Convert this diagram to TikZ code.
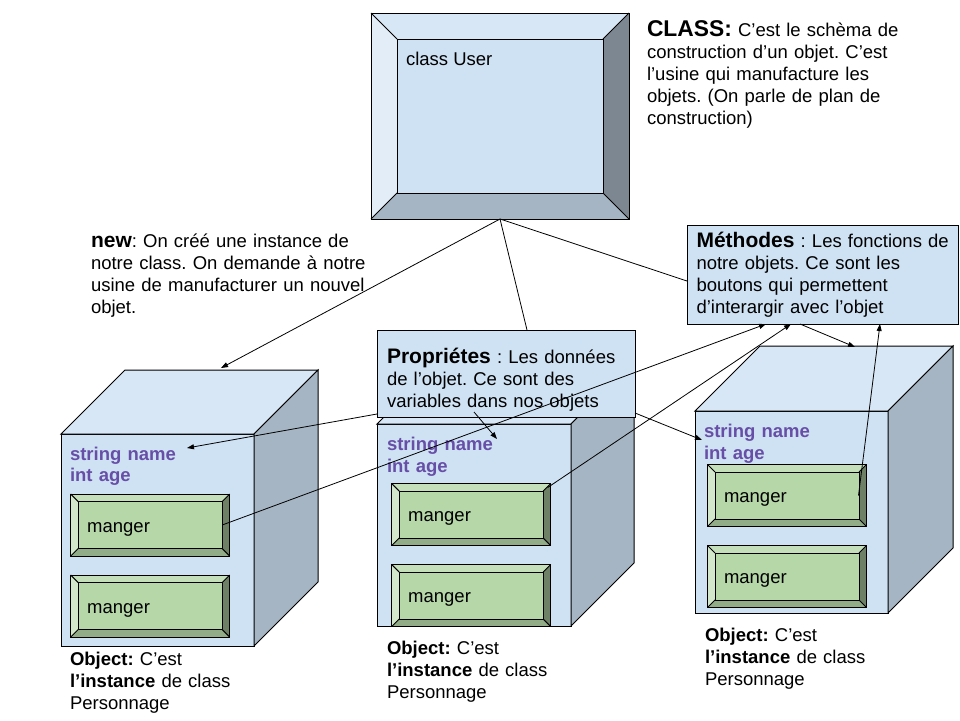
\documentclass[tikz,border=0pt]{standalone}
\usepackage{fontspec}
\setmainfont{Liberation Sans}
\usetikzlibrary{arrows.meta}

\definecolor{faceblue}{HTML}{CFE2F3}
\definecolor{topblue}{HTML}{D8E7F5}
\definecolor{sideblue}{HTML}{A5B5C3}
\definecolor{bevlight}{HTML}{E2EDF8}
\definecolor{bevdark}{HTML}{7C8792}
\definecolor{btnface}{HTML}{B6D7A8}
\definecolor{btntop}{HTML}{C5DFBA}
\definecolor{btnleft}{HTML}{D3E8CB}
\definecolor{btnright}{HTML}{6E8065}
\definecolor{btnbottom}{HTML}{92AC87}
\definecolor{fieldpurple}{HTML}{674EA7}

% bold lead word of a note, one size up
\newcommand\headword[1]{{\fontsize{21}{22.2}\selectfont\bfseries #1}}

% bevelled panel drawn around an empty node: node, inset, face, top, left, right, bottom
\newcommand\bevelframe[7]{%
  \fill[#4] (#1.north west) -- (#1.north east) -- ([shift={(-#2,#2)}]#1.north east) -- ([shift={(#2,#2)}]#1.north west) -- cycle;
  \fill[#5] (#1.north west) -- ([shift={(#2,#2)}]#1.north west) -- ([shift={(#2,-#2)}]#1.south west) -- (#1.south west) -- cycle;
  \fill[#6] (#1.north east) -- ([shift={(-#2,#2)}]#1.north east) -- ([shift={(-#2,-#2)}]#1.south east) -- (#1.south east) -- cycle;
  \fill[#7] (#1.south west) -- ([shift={(#2,-#2)}]#1.south west) -- ([shift={(-#2,-#2)}]#1.south east) -- (#1.south east) -- cycle;
  \draw[bevelline, fill=#3] ([shift={(#2,#2)}]#1.north west) rectangle ([shift={(-#2,-#2)}]#1.south east);
  \draw[bevelline] (#1.north west) -- ([shift={(#2,#2)}]#1.north west)
    (#1.north east) -- ([shift={(-#2,#2)}]#1.north east)
    (#1.south west) -- ([shift={(#2,-#2)}]#1.south west)
    (#1.south east) -- ([shift={(-#2,-#2)}]#1.south east);
  \draw[bevelline] (#1.north west) rectangle (#1.south east);
}

% object box: name, x, y, width, height, depth
\newcommand\objectcube[6]{%
  \node[cubefront, minimum width=#4pt, minimum height=#5pt] (#1) at (#2,#3) {};
  \draw[cubetop] (#1.north west) -- ++(#6,-#6) -- ++(#4,0) -- (#1.north east) -- cycle;
  \draw[cubeside] (#1.north east) -- ++(#6,-#6) -- ++(0,#5) -- (#1.south east) -- cycle;
}

% method button: name, x, y
\newcommand\methodbutton[3]{%
  \node[frame, minimum width=159pt, minimum height=62pt] (#1) at (#2,#3) {};
  \bevelframe{#1}{7.5}{btnface}{btntop}{btnleft}{btnright}{btnbottom}
  \node[txt, anchor=base west] (#1-label) at ([shift={(16.5,38)}]#1.north west) {manger};
}

\begin{document}
\frenchspacing
\begin{tikzpicture}[x=1pt, y=-1pt,
  txt/.style={font=\fontsize{18.5}{22.2}\selectfont, inner sep=0pt, outer sep=0pt, text=black},
  note/.style={txt, anchor=base west, text width=340pt, align=left},
  fields/.style={note, text=fieldpurple, font=\fontsize{18.5}{21.8}\selectfont\bfseries},
  frame/.style={inner sep=0pt, outer sep=0pt, anchor=north west},
  infobox/.style={frame, draw=black, fill=faceblue, line width=1pt},
  cubefront/.style={frame, draw=black, fill=faceblue, line width=1pt},
  cubetop/.style={draw=black, fill=topblue, line width=1pt},
  cubeside/.style={draw=black, fill=sideblue, line width=1pt},
  bevelline/.style={draw=black, line width=1pt},
  link/.style={draw=black, line width=0.8pt},
  arrowlink/.style={link, -{Triangle[length=7pt,width=5pt]}}]

\fill[white] (0,0) rectangle (960,720);
\useasboundingbox (0,0) rectangle (960,720);

% ---- first object ----
\objectcube{obj1}{61}{434}{193}{212}{64}
\node[fields] (obj1-fields) at (70,460) {string name\\int age};
\methodbutton{obj1-m1}{70.7}{494}
\methodbutton{obj1-m2}{70.7}{575}
\node[note] (obj1-note) at (70,665.5) {\textbf{Object:} C’est\\\textbf{l’instance} de class\\Personnage};

% ---- second object ----
\objectcube{obj2}{377}{424}{194}{202}{63}
\node[fields] (obj2-fields) at (387,450.7) {string name\\int age};
\methodbutton{obj2-m1}{391.7}{483.5}
\methodbutton{obj2-m2}{391.7}{564.5}
\node[note] (obj2-note) at (387,654) {\textbf{Object:} C’est\\\textbf{l’instance} de class\\Personnage};

% ---- third object ----
\objectcube{obj3}{695}{411}{193}{202}{65}
\node[fields] (obj3-fields) at (704,437.3) {string name\\int age};
\methodbutton{obj3-m1}{707.5}{464.5}
\methodbutton{obj3-m2}{707.5}{545.5}
\node[note] (obj3-note) at (705,641) {\textbf{Object:} C’est\\\textbf{l’instance} de class\\Personnage};

% ---- properties and methods notes ----
\node[infobox, minimum width=258pt, minimum height=87pt] (prop) at (377,330) {};
\node[note] (prop-text) at (387,363) {\headword{Propriétes} : Les données\\de l’objet. Ce sont des\\variables dans nos objets};

\node[infobox, minimum width=271pt, minimum height=99pt] (meth) at (687,225) {};
\node[note] (meth-text) at (696.5,247) {\headword{Méthodes} : Les fonctions de\\notre objets. Ce sont les\\boutons qui permettent\\d’interargir avec l’objet};

% ---- the class ----
\node[frame, minimum width=258pt, minimum height=206pt] (cls) at (371,13) {};
\bevelframe{cls}{26}{faceblue}{topblue}{bevlight}{bevdark}{sideblue}
\node[txt, anchor=base west] (cls-name) at (406,65.5) {class User};

\node[note] (class-text) at (647,36) {{\fontsize{22.8}{22.2}\selectfont\bfseries CLASS:} C’est le schèma de\\construction d’un objet. C’est\\l’usine qui manufacture les\\objets. (On parle de plan de\\construction)};

\node[note] (new-text) at (91,247) {\headword{new}: On créé une instance de\\notre class. On demande à notre\\usine de manufacturer un nouvel\\objet.};

% ---- connectors ----
\coordinate (new-tip) at (221,368);
\coordinate (fields1-tip) at (187,448);
\coordinate (fields2-tip) at (497,439);
\coordinate (fields3-tip) at (702,440);
\coordinate (obj3-tip) at (855,347);

\draw[arrowlink] (cls.south) -- (new-tip);
\draw[link] (cls.south) -- ([xshift=150pt]prop.north west);
\draw[link] (cls.south) -- ([shift={(0,56)}]meth.north west);

\draw[arrowlink] ([shift={(0,84)}]prop.north west) -- (fields1-tip);
\draw[arrowlink] ([shift={(97,82)}]prop.north west) -- (fields2-tip);
\draw[arrowlink] ([shift={(258,83)}]prop.north west) -- (fields3-tip);

\draw[arrowlink] ([xshift=-7.5pt]obj1-m1.east) -- ([shift={(79,0)}]meth.south west);
\draw[arrowlink] ([shift={(-3,4)}]obj2-m1.north east) -- ([shift={(104,0)}]meth.south west);
\draw[arrowlink] ([shift={(113,0)}]meth.south west) -- (obj3-tip);
\draw[arrowlink] ([xshift=-8pt]obj3-m1.east) -- ([shift={(193,0)}]meth.south west);

\end{tikzpicture}
\end{document}
